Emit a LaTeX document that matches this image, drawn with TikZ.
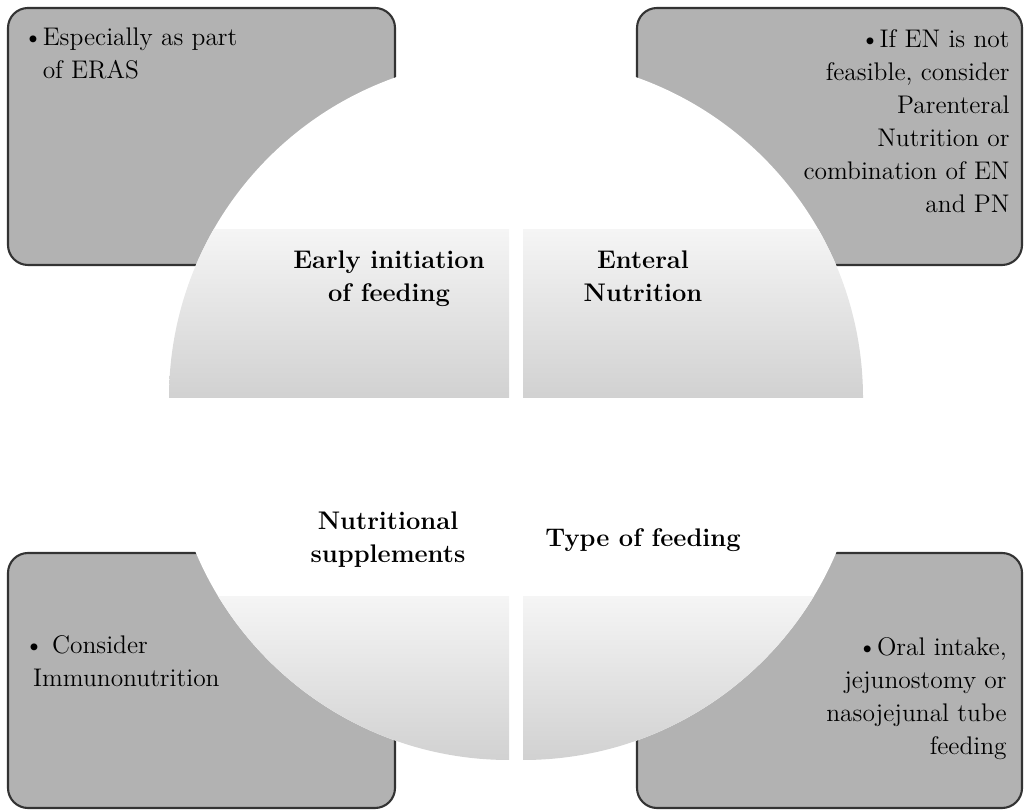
\documentclass[tikz,border=0pt]{standalone}
\usetikzlibrary{positioning}
\begin{document}
\begin{tikzpicture}[x=0.02cm, y=0.02cm,
    infobox/.style={draw=black!80, fill=gray!60, line width=1.2pt, rounded corners=0.4cm},
    quarter/.style={top color=gray!8, bottom color=gray!36},
    bodytext/.style={inner sep=0pt, text=black, font=\fontsize{14.5}{18.8}\selectfont},
    headtext/.style={inner sep=0pt, align=center, font=\fontsize{14.5}{18.8}\selectfont\bfseries}]

    \useasboundingbox (0,0) rectangle (1026,810);

    \draw[infobox] (8,545) rectangle (395,802);
    \draw[infobox] (637,545) rectangle (1022,802);
    \draw[infobox] (8,2) rectangle (395,257);
    \draw[infobox] (637,2) rectangle (1022,257);

    \begin{scope}
        \clip (509,412) -- (169,412) arc[start angle=180, end angle=90, radius=340] -- cycle;
        \fill[white] (169,412) rectangle (509,752);
        \shade[quarter] (169,412) rectangle (509,580);
    \end{scope}
    \begin{scope}
        \clip (523,412) -- (523,752) arc[start angle=90, end angle=0, radius=340] -- cycle;
        \fill[white] (523,412) rectangle (863,752);
        \shade[quarter] (523,412) rectangle (863,580);
    \end{scope}
    \begin{scope}
        \clip (509,390) -- (509,50) arc[start angle=270, end angle=180, radius=340] -- cycle;
        \fill[white] (169,50) rectangle (509,390);
        \shade[quarter] (169,50) rectangle (509,213);
    \end{scope}
    \begin{scope}
        \clip (523,390) -- (863,390) arc[start angle=0, end angle=-90, radius=340] -- cycle;
        \fill[white] (523,50) rectangle (863,390);
        \shade[quarter] (523,50) rectangle (863,213);
    \end{scope}

    \node[bodytext, anchor=base west, align=left] (eras) at (23,731)
        {\textbullet Especially as part\\\phantom{\textbullet}of ERAS};
    \node[bodytext, anchor=base east, align=right] (parenteral) at (1010,597)
        {\textbullet If EN is not\\feasible, consider\\Parenteral\\Nutrition or\\combination of EN\\and PN};
    \node[bodytext, anchor=base west, align=left] (immuno) at (24,123)
        {\textbullet\ Consider\\\hspace*{5pt}Immunonutrition};
    \node[bodytext, anchor=base east, align=right] (oral) at (1007,55)
        {\textbullet Oral intake,\\jejunostomy or\\nasojejunal tube\\feeding};

    \node[headtext, anchor=base] (early) at (389,508) {Early initiation\\of feeding};
    \node[headtext, anchor=base] (enteral) at (643,508) {Enteral\\Nutrition};
    \node[headtext, anchor=base] (supplements) at (388,247) {Nutritional\\supplements};
    \node[headtext, anchor=base] (feedtype) at (643,263) {Type of feeding};
\end{tikzpicture}
\end{document}
